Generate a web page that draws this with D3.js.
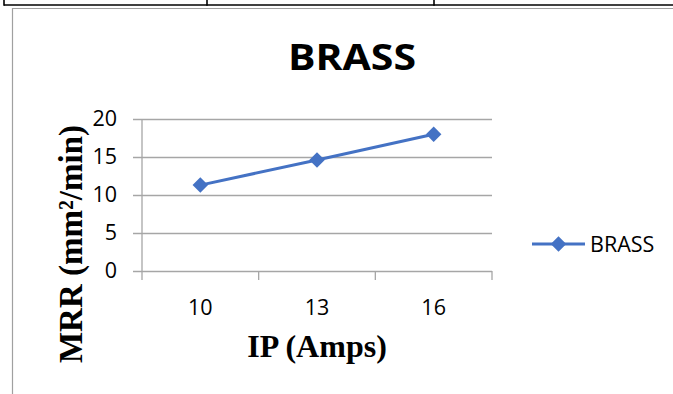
<!DOCTYPE html>
<html>
<head>
<meta charset="utf-8">
<script src="https://cdn.jsdelivr.net/npm/d3@7"></script>
<style>
  html, body { margin: 0; padding: 0; background: #fff; }
  svg { display: block; }
</style>
</head>
<body>
<svg id="chart" width="673" height="394"></svg>
<script>
// ---- data ----
const categories = ["10", "13", "16"];
const brassValues = [11.3, 14.6, 18.0];
const yTicks = [0, 5, 10, 15, 20];
const seriesName = "BRASS";
const chartTitle = "BRASS";
const xTitle = "IP (Amps)";
const yTitle = "MRR (mm²/min)";

// ---- drawing ----
const svg = d3.select("#chart");
const W = 673, H = 394;

// page/table borders behind the chart
svg.append("line").attr("x1", 4).attr("x2", W).attr("y1", 5).attr("y2", 5)
  .attr("stroke", "#000").attr("stroke-width", 1.6);
[4, 207, 434].forEach(x => {
  svg.append("line").attr("x1", x).attr("x2", x).attr("y1", 0).attr("y2", 5.8)
    .attr("stroke", "#000").attr("stroke-width", 1.6);
});
svg.append("line").attr("x1", 12).attr("x2", W).attr("y1", 8.5).attr("y2", 8.5)
  .attr("stroke", "#a0a0a0").attr("stroke-width", 1);
svg.append("line").attr("x1", 12.5).attr("x2", 12.5).attr("y1", 8).attr("y2", H)
  .attr("stroke", "#a0a0a0").attr("stroke-width", 1.2);

const plotL = 142, plotR = 492, plotT = 119, plotB = 271;
const x = d3.scaleBand().domain(categories).range([plotL, plotR]).padding(0);
const y = d3.scaleLinear().domain([0, 20]).range([plotB, plotT]);

const gridColor = "#a6a6a6";
const labelFont = "'Open Sans', sans-serif";
const labelSize = 21.5;

// y axis with gridlines
const yAxis = svg.append("g")
  .attr("transform", `translate(133,0)`)
  .call(d3.axisLeft(y).tickValues(yTicks).tickSize(-(plotR - 133)).tickPadding(16));
yAxis.select(".domain").remove();
yAxis.selectAll(".tick line").attr("stroke", gridColor).attr("stroke-width", 1.3);
yAxis.selectAll(".tick text")
  .attr("font-family", labelFont)
  .attr("font-size", labelSize).attr("fill", "#000");

// vertical axis line
svg.append("line").attr("x1", plotL).attr("x2", plotL).attr("y1", plotT).attr("y2", plotB + 9)
  .attr("stroke", gridColor).attr("stroke-width", 1.3);

// x axis labels
const xAxis = svg.append("g")
  .attr("transform", `translate(0,${plotB})`)
  .call(d3.axisBottom(x).tickSize(0).tickPadding(44));
xAxis.select(".domain").remove();
xAxis.selectAll(".tick text")
  .attr("font-family", labelFont)
  .attr("font-size", labelSize).attr("fill", "#000").attr("dy", 0);

// category boundary ticks
const bounds = categories.map(c => x(c)).concat([x(categories[categories.length - 1]) + x.bandwidth()]);
svg.append("g").selectAll("line").data(bounds.slice(1)).join("line")
  .attr("x1", d => d).attr("x2", d => d).attr("y1", plotB).attr("y2", plotB + 9)
  .attr("stroke", gridColor).attr("stroke-width", 1.3);

// series line
const color = "#4472C4";
const pts = categories.map((c, i) => [x(c) + x.bandwidth() / 2, y(brassValues[i])]);
svg.append("path").datum(pts)
  .attr("d", d3.line())
  .attr("fill", "none").attr("stroke", color).attr("stroke-width", 3)
  .attr("stroke-linejoin", "round");

const diamond = d3.symbol().type(d3.symbolSquare).size(120);
svg.append("g").selectAll("path").data(pts).join("path")
  .attr("d", diamond)
  .attr("transform", d => `translate(${d[0]},${d[1]}) rotate(45)`)
  .attr("fill", color);

// title
svg.append("text").attr("x", 352).attr("y", 70)
  .attr("text-anchor", "middle")
  .attr("font-family", labelFont).attr("font-weight", "bold")
  .attr("font-size", 36).attr("fill", "#000")
  .attr("textLength", 128).attr("lengthAdjust", "spacingAndGlyphs")
  .text(chartTitle);

// axis titles
svg.append("text").attr("x", 317).attr("y", 357)
  .attr("text-anchor", "middle")
  .attr("font-family", "'Liberation Serif', 'Times New Roman', serif").attr("font-weight", "bold")
  .attr("font-size", 32).attr("fill", "#000")
  .text(xTitle);

svg.append("text")
  .attr("transform", "translate(82,244) rotate(-90)")
  .attr("text-anchor", "middle")
  .attr("font-family", "'Liberation Serif', 'Times New Roman', serif").attr("font-weight", "bold")
  .attr("font-size", 33).attr("fill", "#000")
  .text(yTitle);

// legend
const lg = svg.append("g").attr("transform", "translate(532,244)");
lg.append("line").attr("x1", 0).attr("x2", 53).attr("y1", 0).attr("y2", 0)
  .attr("stroke", color).attr("stroke-width", 3);
lg.append("path").attr("d", diamond).attr("transform", "translate(26.5,0) rotate(45)").attr("fill", color);
lg.append("text").attr("x", 58).attr("y", 7.8)
  .attr("font-family", labelFont)
  .attr("font-size", labelSize).attr("fill", "#000")
  .text(seriesName);
</script>
</body>
</html>
